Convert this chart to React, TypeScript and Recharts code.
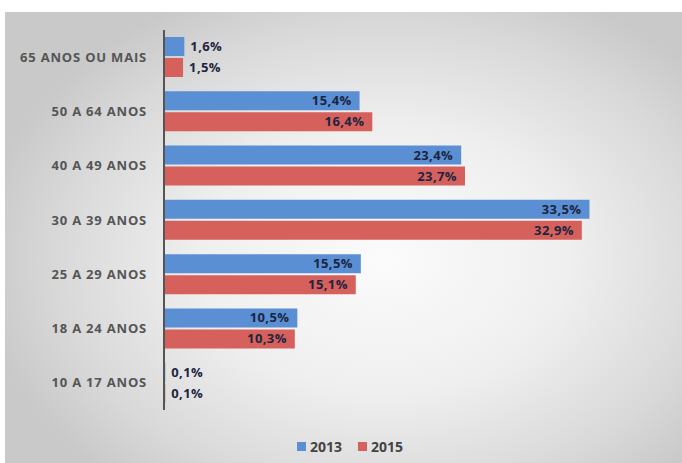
import React from 'react';
import { BarChart, Bar, XAxis, YAxis, Legend, LabelList } from 'recharts';

const categories = ['65 ANOS OU MAIS', '50 A 64 ANOS', '40 A 49 ANOS', '30 A 39 ANOS', '25 A 29 ANOS', '18 A 24 ANOS', '10 A 17 ANOS'];
const values2013 = [1.6, 15.4, 23.4, 33.5, 15.5, 10.5, 0.1];
const values2015 = [1.5, 16.4, 23.7, 32.9, 15.1, 10.3, 0.1];
const seriesNames = ['2013', '2015'];

const data = categories.map((name, i) => ({ name, v2013: values2013[i], v2015: values2015[i] }));

const BLUE = '#5a8fd4';
const RED = '#d6605c';
const FONT = '"Open Sans", Lato, sans-serif';

const fmt = (v: number) => v.toFixed(1).replace('.', ',') + '%';

const renderLabel = (props: any) => {
  const { x, y, width, height, value } = props;
  const v = Number(value);
  const cy = Number(y) + Number(height) / 2;
  const common = { y: cy, dy: '0.35em', fontFamily: FONT, fontWeight: 700, fontSize: 13, letterSpacing: 0.4, fill: '#1c2540' };
  if (v < 5) {
    return (
      <text x={Number(x) + Number(width) + 6} textAnchor="start" {...common}>
        {fmt(v)}
      </text>
    );
  }
  return (
    <text x={Number(x) + Number(width) - 8} textAnchor="end" {...common}>
      {fmt(v)}
    </text>
  );
};

const renderLegend = () => (
  <div style={{ display: 'flex', justifyContent: 'center', alignItems: 'center', fontFamily: FONT, fontWeight: 700, fontSize: 14, color: '#444', height: 20 }}>
    {seriesNames.map((s, i) => (
      <span key={s} style={{ display: 'flex', alignItems: 'center', marginRight: i === 0 ? 16 : 0 }}>
        <span style={{ display: 'inline-block', width: 9, height: 9, background: i === 0 ? BLUE : RED, marginRight: 4 }} />
        {s}
      </span>
    ))}
  </div>
);

export default function App() {
  return (
    <div style={{ position: 'absolute', left: 0, top: 0, width: 682, height: 463, background: '#ffffff', overflow: 'hidden' }}>
      <div
        style={{
          position: 'absolute',
          left: 5,
          top: 12,
          width: 677,
          height: 451,
          background: 'radial-gradient(ellipse 60% 65% at 56% 55%, #fbfbfb 0%, #efefef 45%, #d9d9d9 80%, #c9c9c9 100%)',
        }}
      />
      <div style={{ position: 'absolute', left: 0, top: 0 }}>
        <BarChart
          width={682}
          height={463}
          data={data}
          layout="vertical"
          margin={{ top: 30, right: 10, bottom: 33, left: 0 }}
          barSize={19}
          barGap={2}
        >
          <XAxis type="number" domain={[0, 40]} hide />
          <YAxis
            type="category"
            dataKey="name"
            width={164}
            tickLine={false}
            tickSize={0}
            tickMargin={17}
            axisLine={{ stroke: '#555555', strokeWidth: 2 }}
            tick={{ fontFamily: FONT, fontWeight: 700, fontSize: 13, letterSpacing: 0.8, fill: '#555555' }}
            interval={0}
          />
          <Bar dataKey="v2013" name="2013" fill={BLUE} isAnimationActive={false}>
            <LabelList dataKey="v2013" content={renderLabel} />
          </Bar>
          <Bar dataKey="v2015" name="2015" fill={RED} isAnimationActive={false}>
            <LabelList dataKey="v2015" content={renderLabel} />
          </Bar>
          <Legend content={renderLegend} wrapperStyle={{ position: 'absolute', left: 270, top: 436, width: 160, height: 20 }} />
        </BarChart>
      </div>
    </div>
  );
}
